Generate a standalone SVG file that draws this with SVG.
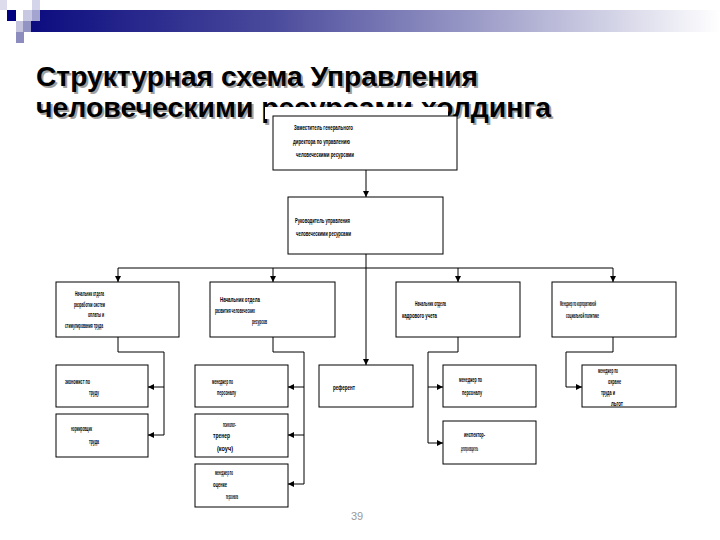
<svg xmlns="http://www.w3.org/2000/svg" width="720" height="540" viewBox="0 0 720 540">
<defs>
<linearGradient id="bar" x1="0" y1="0" x2="1" y2="0">
<stop offset="0" stop-color="#0c0c80"/>
<stop offset="0.35" stop-color="#4a4a9c"/>
<stop offset="0.65" stop-color="#9c9cc8"/>
<stop offset="1" stop-color="#ffffff"/>
</linearGradient>
<marker id="arr" viewBox="0 0 6 6" refX="6" refY="3" markerWidth="6" markerHeight="6" orient="auto" markerUnits="userSpaceOnUse">
<path d="M0,0 L6,3 L0,6 z" fill="#000"/>
</marker>
<style>
.box{fill:#fff;stroke:#000;stroke-width:1}
.ln{fill:none;stroke:#000;stroke-width:1}
.t{font-family:"Liberation Sans",Arial,sans-serif;font-size:7px;font-weight:bold;fill:#000}
.title{font-family:"Liberation Sans",Arial,sans-serif;font-size:28px;font-weight:bold}
</style>
</defs>
<rect width="720" height="540" fill="#fff"/>
<g id="header">
<rect x="31" y="10" width="689" height="22" fill="url(#bar)"/>
<rect x="0" y="0" width="7" height="10" fill="#dcdcec"/>
<rect x="7" y="10" width="9" height="11" fill="#000080"/>
<rect x="23" y="10" width="9" height="11" fill="#c8c8e2"/>
<rect x="32" y="10" width="8" height="11" fill="#a4a4d0"/>
<rect x="32" y="0" width="8" height="10" fill="#d4d4ea"/>
<rect x="16" y="21" width="7" height="11" fill="#c4c4de"/>
<rect x="23" y="21" width="8" height="11" fill="#9494c4"/>
<rect x="16" y="32" width="8" height="11" fill="#8c8cbe"/>
</g>
<g id="title">
<text class="title" x="38" y="88" fill="#a0a0a0" textLength="442" lengthAdjust="spacingAndGlyphs">Структурная схема Управления</text>
<text class="title" x="36" y="86" fill="#000" textLength="442" lengthAdjust="spacingAndGlyphs">Структурная схема Управления</text>
<text class="title" x="38" y="119" fill="#a0a0a0" textLength="515" lengthAdjust="spacingAndGlyphs">человеческими ресурсами холдинга</text>
<text class="title" x="36" y="117" fill="#000" textLength="515" lengthAdjust="spacingAndGlyphs">человеческими ресурсами холдинга</text>
</g>
<rect x="265" y="107" width="183" height="12" fill="#fff"/>
<g id="connectors">
<path class="ln" d="M366,170 V197" marker-end="url(#arr)"/>
<path class="ln" d="M366,254 V365" marker-end="url(#arr)"/>
<path class="ln" d="M118,268 H613"/>
<path class="ln" d="M118,268 V282" marker-end="url(#arr)"/>
<path class="ln" d="M273,268 V282" marker-end="url(#arr)"/>
<path class="ln" d="M458,268 V282" marker-end="url(#arr)"/>
<path class="ln" d="M613,268 V282" marker-end="url(#arr)"/>
<path class="ln" d="M118,337 V352 H164 V435"/>
<path class="ln" d="M164,387 H148" marker-end="url(#arr)"/>
<path class="ln" d="M164,435 H148" marker-end="url(#arr)"/>
<path class="ln" d="M273,337 V352 H304 V484"/>
<path class="ln" d="M304,387 H288" marker-end="url(#arr)"/>
<path class="ln" d="M304,435 H288" marker-end="url(#arr)"/>
<path class="ln" d="M304,484 H288" marker-end="url(#arr)"/>
<path class="ln" d="M458,337 V352 H428 V443"/>
<path class="ln" d="M428,387 H443" marker-end="url(#arr)"/>
<path class="ln" d="M428,443 H443" marker-end="url(#arr)"/>
<path class="ln" d="M613,337 V352 H566 V387 H582" marker-end="url(#arr)"/>
</g>
<g id="n-deputy">
<rect class="box" x="273" y="116" width="184" height="54"/>
<text class="t" x="294" y="130" textLength="59" lengthAdjust="spacingAndGlyphs">Заместитель генерального</text>
<text class="t" x="293" y="144" textLength="57" lengthAdjust="spacingAndGlyphs">директора по управлению</text>
<text class="t" x="296" y="157" textLength="58" lengthAdjust="spacingAndGlyphs">человеческими ресурсами</text>
</g>
<g id="n-head">
<rect class="box" x="288" y="197" width="155" height="57"/>
<text class="t" x="295" y="223" textLength="55" lengthAdjust="spacingAndGlyphs">Руководитель управления</text>
<text class="t" x="296" y="236" textLength="55" lengthAdjust="spacingAndGlyphs">человеческими ресурсами</text>
</g>
<g id="n-dept-motivation">
<rect class="box" x="56" y="282" width="123" height="55"/>
<text class="t" x="75" y="296" textLength="29" lengthAdjust="spacingAndGlyphs">Начальник отдела</text>
<text class="t" x="74" y="307" textLength="31" lengthAdjust="spacingAndGlyphs">разработки систем</text>
<text class="t" x="88" y="317" textLength="16" lengthAdjust="spacingAndGlyphs">оплаты и</text>
<text class="t" x="65" y="328" textLength="38" lengthAdjust="spacingAndGlyphs">стимулирования труда</text>
</g>
<g id="n-dept-development">
<rect class="box" x="210" y="282" width="125" height="55"/>
<text class="t" x="220" y="302" textLength="40" lengthAdjust="spacingAndGlyphs">Начальник отдела</text>
<text class="t" x="215" y="313" textLength="40" lengthAdjust="spacingAndGlyphs">развития человеческих</text>
<text class="t" x="252" y="324" textLength="15" lengthAdjust="spacingAndGlyphs">ресурсов</text>
</g>
<g id="n-dept-personnel">
<rect class="box" x="396" y="282" width="124" height="55"/>
<text class="t" x="415" y="306" textLength="31" lengthAdjust="spacingAndGlyphs">Начальник отдела</text>
<text class="t" x="402" y="318" textLength="35" lengthAdjust="spacingAndGlyphs">кадрового учета</text>
</g>
<g id="n-manager-social">
<rect class="box" x="552" y="282" width="124" height="55"/>
<text class="t" x="560" y="306" textLength="36" lengthAdjust="spacingAndGlyphs">Менеджер по корпоративной</text>
<text class="t" x="566" y="318" textLength="33" lengthAdjust="spacingAndGlyphs">социальной политике</text>
</g>
<g id="n-economist">
<rect class="box" x="56" y="365" width="92" height="42"/>
<text class="t" x="65" y="384" textLength="25" lengthAdjust="spacingAndGlyphs">экономист по</text>
<text class="t" x="89" y="395" textLength="10" lengthAdjust="spacingAndGlyphs">труду</text>
</g>
<g id="n-normer">
<rect class="box" x="56" y="414" width="92" height="43"/>
<text class="t" x="71" y="431" textLength="21" lengthAdjust="spacingAndGlyphs">нормировщик</text>
<text class="t" x="89" y="444" textLength="10" lengthAdjust="spacingAndGlyphs">труда</text>
</g>
<g id="n-hr-manager-1">
<rect class="box" x="195" y="365" width="93" height="42"/>
<text class="t" x="212" y="384" textLength="21" lengthAdjust="spacingAndGlyphs">менеджер по</text>
<text class="t" x="217" y="395" textLength="19" lengthAdjust="spacingAndGlyphs">персоналу</text>
</g>
<g id="n-coach">
<rect class="box" x="195" y="414" width="93" height="43"/>
<text class="t" x="223" y="427" textLength="13" lengthAdjust="spacingAndGlyphs">психолог-</text>
<text class="t" x="213" y="438" textLength="17" lengthAdjust="spacingAndGlyphs">тренер</text>
<text class="t" x="217" y="451" textLength="16" lengthAdjust="spacingAndGlyphs">(коуч)</text>
</g>
<g id="n-assessment">
<rect class="box" x="195" y="464" width="93" height="43"/>
<text class="t" x="215" y="475" textLength="18" lengthAdjust="spacingAndGlyphs">менеджер по</text>
<text class="t" x="213" y="487" textLength="14" lengthAdjust="spacingAndGlyphs">оценке</text>
<text class="t" x="226" y="499" textLength="12" lengthAdjust="spacingAndGlyphs">персонала</text>
</g>
<g id="n-referent">
<rect class="box" x="319" y="365" width="94" height="42"/>
<text class="t" x="333" y="390" textLength="22" lengthAdjust="spacingAndGlyphs">референт</text>
</g>
<g id="n-hr-manager-2">
<rect class="box" x="443" y="365" width="93" height="42"/>
<text class="t" x="459" y="382" textLength="23" lengthAdjust="spacingAndGlyphs">менеджер по</text>
<text class="t" x="462" y="395" textLength="20" lengthAdjust="spacingAndGlyphs">персоналу</text>
</g>
<g id="n-inspector">
<rect class="box" x="443" y="421" width="93" height="43"/>
<text class="t" x="464" y="437" textLength="21" lengthAdjust="spacingAndGlyphs">инспектор-</text>
<text class="t" x="461" y="451" textLength="17" lengthAdjust="spacingAndGlyphs">делопроизводитель</text>
</g>
<g id="n-labour-safety">
<rect class="box" x="582" y="365" width="94" height="42"/>
<text class="t" x="598" y="373" textLength="20" lengthAdjust="spacingAndGlyphs">менеджер по</text>
<text class="t" x="608" y="384" textLength="13" lengthAdjust="spacingAndGlyphs">охране</text>
<text class="t" x="601" y="395" textLength="14" lengthAdjust="spacingAndGlyphs">труда и</text>
<text class="t" x="611" y="406" textLength="12" lengthAdjust="spacingAndGlyphs">льгот</text>
</g>
<text x="357" y="520" text-anchor="middle" font-family="Liberation Sans, Arial, sans-serif" font-size="11" fill="#999">39</text>
</svg>
